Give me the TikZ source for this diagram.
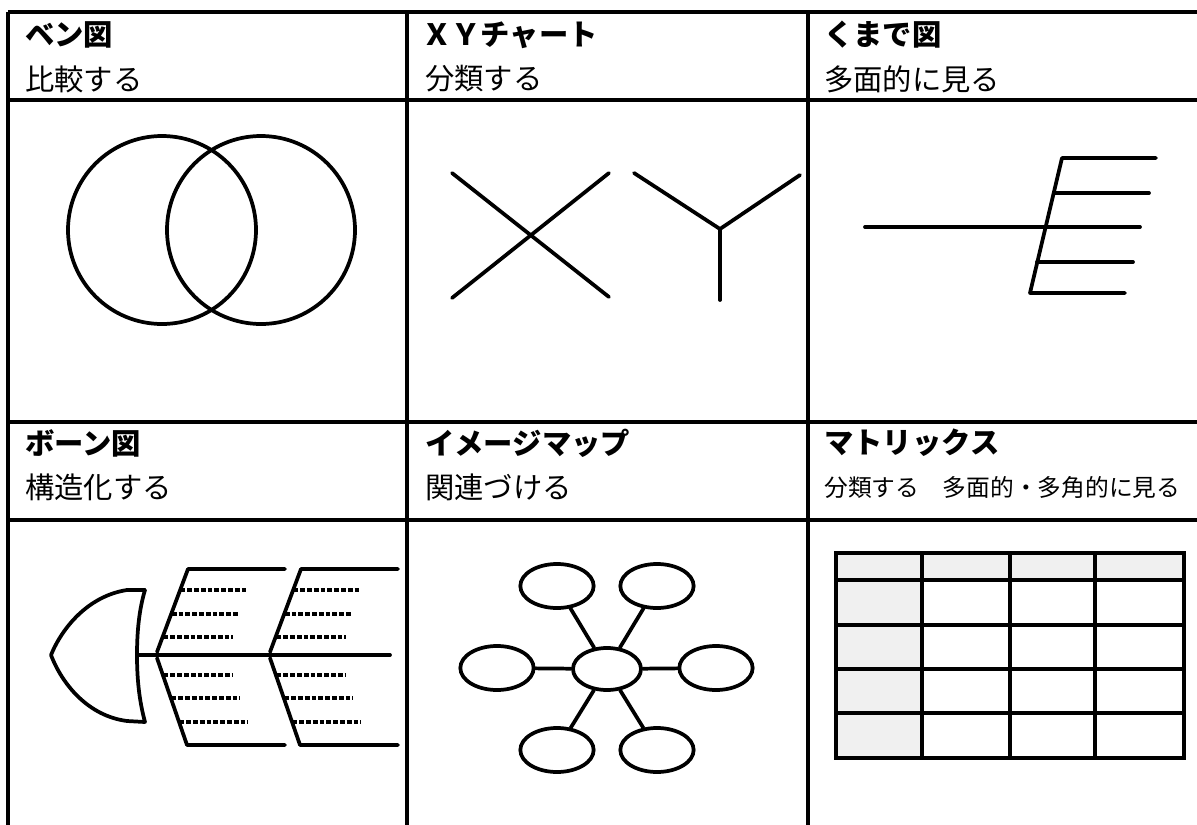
\documentclass[tikz,border=0pt]{standalone}
\usepackage{fontspec}
\newfontfamily\jpfont{Noto Sans CJK JP}
\usetikzlibrary{shapes.geometric}

\begin{document}
\begin{tikzpicture}[x=0.75pt,y=-0.75pt,
  grid/.style={line width=2.6pt},
  fig/.style={line width=2.8pt,line cap=round,line join=round},
  dots/.style={line width=2.8pt,dash pattern=on 3.6pt off 1.5pt},
  cell/.style={line width=3.4pt},
  title/.style={anchor=west,inner sep=0pt,font=\jpfont\bfseries\fontsize{22}{26}\selectfont},
  sub/.style={anchor=west,inner sep=0pt,font=\jpfont\fontsize{22}{26}\selectfont},
  bubble/.style={draw,ellipse,line width=2.8pt,inner sep=0pt,
                 minimum width=55pt,minimum height=33pt}]
  \useasboundingbox (0,0) rectangle (1197,825);

  % Table frame
  \draw[grid] (8,12) -- (1197,12);
  \draw[grid] (8,100) -- (1197,100);
  \draw[grid] (8,422) -- (1197,422);
  \draw[grid] (8,520) -- (1197,520);
  \foreach \x in {8,407,808}
    \draw[grid] (\x,12) -- (\x,825);

  % Headings
  \node[title] (venn)  at (25,35)  {ベン図};
  \node[sub]   (vennS) at (25,79)  {比較する};
  \node[title] (xy)    at (422,35) {ＸＹチャート};
  \node[sub]   (xyS)   at (425,79) {分類する};
  \node[title] (kuma)  at (824,35) {くまで図};
  \node[sub]   (kumaS) at (824,79) {多面的に見る};
  \node[title] (bone)  at (25,443)  {ボーン図};
  \node[sub]   (boneS) at (25,487)  {構造化する};
  \node[title] (map)   at (425,443) {イメージマップ};
  \node[sub]   (mapS)  at (425,487) {関連づける};
  \node[title] (mat)   at (824,443) {マトリックス};
  \node[sub,font=\jpfont\fontsize{17.8}{22}\selectfont] (matS) at (824,487)
    {分類する　多面的・多角的に見る};

  % Venn diagram
  \draw[fig] (162,230) circle[radius=94];
  \draw[fig] (261,230) circle[radius=94];

  % X and Y
  \draw[fig] (452,173) -- (609,297);
  \draw[fig] (452,298) -- (609,173);
  \draw[fig] (634,173) -- (720,229) -- (800,175);
  \draw[fig] (720,229) -- (720,300);

  % Rake
  \draw[fig] (865,227) -- (1140,227);
  \draw[fig] (1156,158) -- (1062,158) -- (1030,293) -- (1125,293);
  \draw[fig] (1054,193) -- (1149,193);
  \draw[fig] (1037,262) -- (1133,262);

  % Fish bone
  \draw[fig] (145,590) -- (127,590)
    .. controls (88,596) and (62,628) .. (51,655)
    .. controls (62,684) and (88,716) .. (127,721) -- (145,722)
    .. controls (139,700) and (137,678) .. (137,655)
    .. controls (137,632) and (139,610) .. (145,590);
  \draw[fig] (137,655) -- (390,655);
  \foreach \dx in {0,113}{
    \draw[fig] ({157+\dx},652) -- ({188+\dx},569) -- ({285+\dx},569);
    \draw[fig] ({157+\dx},658) -- ({187+\dx},745) -- ({285+\dx},745);
    \foreach \y/\e in {590/248,614/238,637/233}
      \draw[dots] ({157+(655-\y)*0.36+\dx},\y) -- ({\e+\dx},\y);
    \foreach \y/\e in {675/233,698/240,722/248}
      \draw[dots] ({157+(\y-655)*0.333+\dx},\y) -- ({\e+\dx},\y);
  }

  % Image map
  \node[bubble,minimum width=51pt,minimum height=31.5pt] (hub) at (607,669) {};
  \node[bubble] (nw) at (557,586) {};
  \node[bubble] (ne) at (657,586) {};
  \node[bubble] (w)  at (497,668) {};
  \node[bubble] (e)  at (716,668) {};
  \node[bubble] (sw) at (557,750) {};
  \node[bubble] (se) at (657,750) {};
  \foreach \n in {nw,ne,w,e,sw,se}
    \draw[fig] (hub) -- (\n);

  % Matrix
  \fill[black!6] (836,553) rectangle (1184,580);
  \fill[black!6] (836,580) rectangle (922,758);
  \draw[cell] (836,553) rectangle (1184,758);
  \foreach \x in {922,1010,1095}
    \draw[cell] (\x,553) -- (\x,758);
  \foreach \y in {580,625,669,713}
    \draw[cell] (836,\y) -- (1184,\y);
\end{tikzpicture}
\end{document}
